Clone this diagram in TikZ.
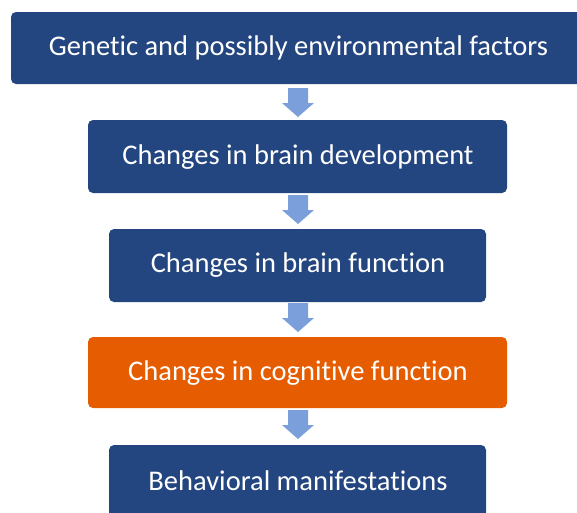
\documentclass[tikz,border=0pt]{standalone}
\usepackage{fontspec}
\setmainfont{Carlito}[Ligatures={NoCommon}]
\definecolor{boxblue}{HTML}{244680}
\definecolor{boxorange}{HTML}{E65C00}
\definecolor{arrowblue}{HTML}{7B9FDB}
\begin{document}
\begin{tikzpicture}[x=1pt,y=-1pt,
  label/.style={text=white,font=\fontsize{28.5}{32}\selectfont}]
\useasboundingbox (0,0) rectangle (577,512);
\clip (0,0) rectangle (577,512);
\fill[boxblue,rounded corners=5pt] (11,12) rectangle (590,84);
\fill[boxblue,rounded corners=5pt] (88,120) rectangle (507,193);
\fill[boxblue,rounded corners=5pt] (109,229) rectangle (486,302);
\fill[boxorange,rounded corners=5pt] (88,337) rectangle (507,408);
\fill[boxblue,rounded corners=5pt] (109,445) rectangle (486,530);
\node[label] (t1) at (298.5,48) {Genetic and possibly environmental factors};
\node[label] (t2) at (298,157) {Changes in brain development};
\node[label] (t3) at (298,265) {Changes in brain function};
\node[label] (t4) at (298,373) {Changes in cognitive function};
\node[label] (t5) at (298,481) {Behavioral manifestations};
\foreach \y in {88,195,303,410}{
  \fill[arrowblue] (288,\y) -- (308,\y) -- (308,\y+15) -- (314,\y+15) -- (298,\y+29) -- (282,\y+15) -- (288,\y+15) -- cycle;
}
\end{tikzpicture}
\end{document}
